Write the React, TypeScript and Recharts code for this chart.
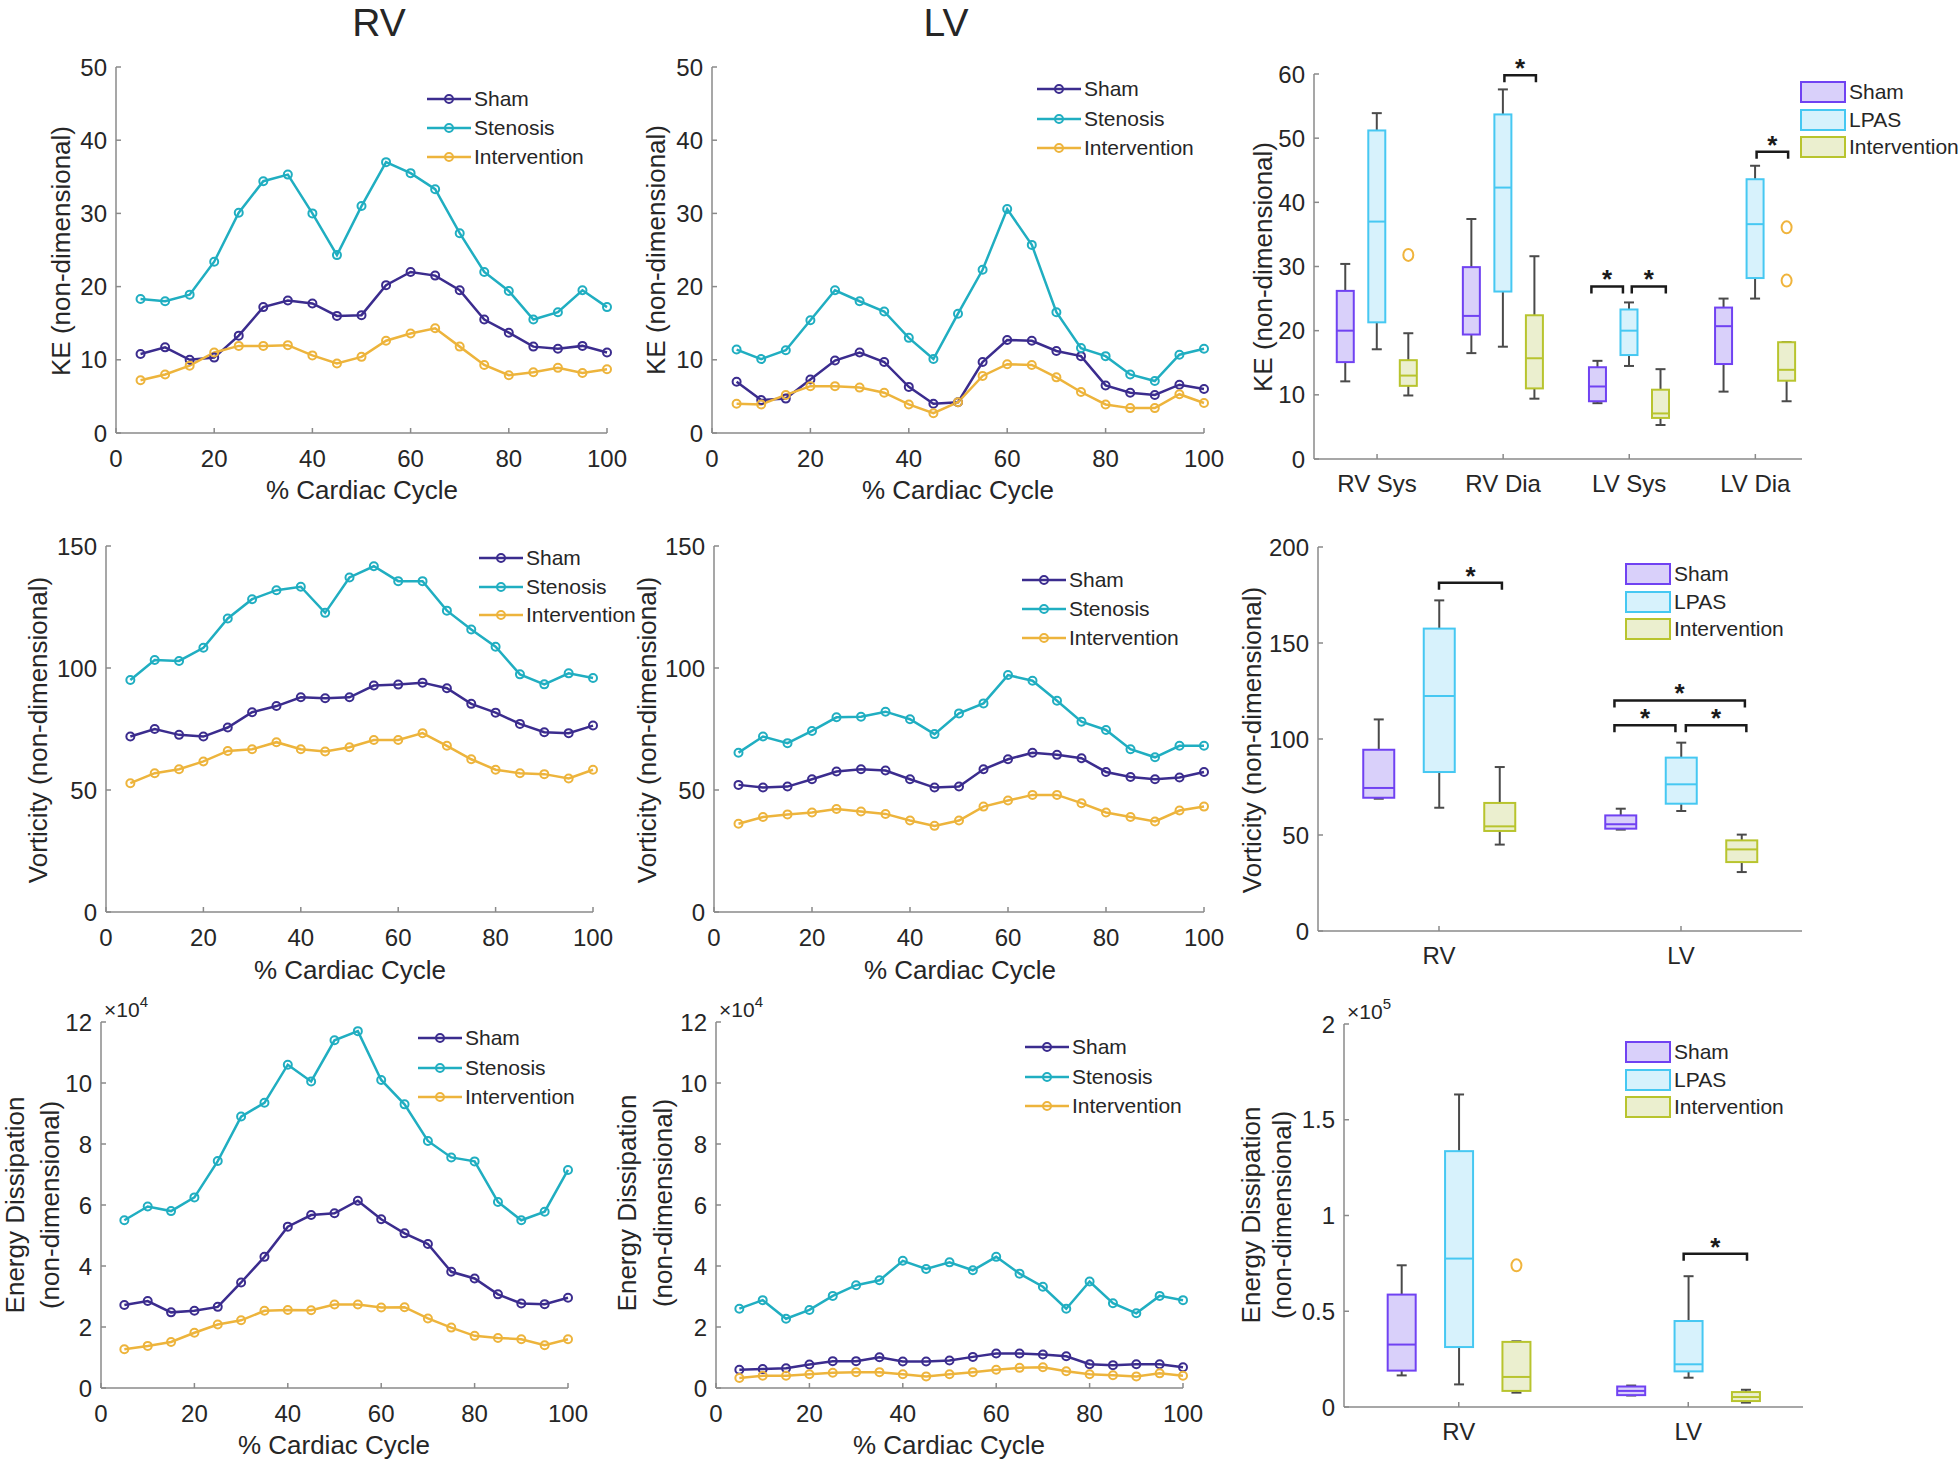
import React from 'react'
import { Bar, ComposedChart, Line, LineChart, ReferenceLine, XAxis, YAxis } from 'recharts'

// ---- line panels: % cardiac cycle ----
const cycle = [5, 10, 15, 20, 25, 30, 35, 40, 45, 50, 55, 60, 65, 70, 75, 80, 85, 90, 95, 100]

const rvKeSham = [10.8, 11.7, 10.0, 10.3, 13.3, 17.2, 18.1, 17.7, 16.0, 16.1, 20.2, 22.0, 21.5, 19.5, 15.5, 13.7, 11.8, 11.5, 11.9, 11.0]
const rvKeStenosis = [18.3, 18.0, 18.9, 23.4, 30.1, 34.4, 35.3, 30.0, 24.3, 31.0, 37.0, 35.5, 33.3, 27.3, 22.0, 19.4, 15.5, 16.5, 19.5, 17.2]
const rvKeIntervention = [7.2, 8.0, 9.2, 11.0, 11.9, 11.9, 12.0, 10.6, 9.5, 10.4, 12.6, 13.6, 14.3, 11.8, 9.3, 7.9, 8.3, 8.9, 8.2, 8.7]

const lvKeSham = [7.0, 4.5, 4.7, 7.3, 9.9, 11.0, 9.7, 6.3, 4.0, 4.2, 9.7, 12.7, 12.6, 11.2, 10.5, 6.5, 5.5, 5.2, 6.6, 6.0]
const lvKeStenosis = [11.4, 10.1, 11.3, 15.4, 19.5, 18.0, 16.6, 13.0, 10.1, 16.3, 22.3, 30.6, 25.7, 16.5, 11.6, 10.5, 8.0, 7.1, 10.7, 11.5]
const lvKeIntervention = [4.0, 3.9, 5.2, 6.4, 6.4, 6.2, 5.5, 3.9, 2.7, 4.2, 7.8, 9.4, 9.3, 7.6, 5.6, 3.9, 3.4, 3.4, 5.3, 4.1]

const rvVortSham = [71.9, 75.0, 72.6, 71.9, 75.6, 81.9, 84.4, 88.0, 87.6, 88.0, 92.8, 93.2, 94.0, 91.7, 85.3, 81.7, 77.1, 73.7, 73.3, 76.4]
const rvVortStenosis = [95.1, 103.3, 102.9, 108.3, 120.3, 128.2, 131.9, 133.3, 122.6, 137.1, 141.7, 135.6, 135.6, 123.5, 115.8, 108.7, 97.4, 93.3, 97.8, 95.9]
const rvVortIntervention = [52.8, 56.9, 58.5, 61.7, 66.0, 66.7, 69.6, 66.7, 65.8, 67.5, 70.5, 70.5, 73.3, 68.1, 62.6, 58.3, 56.9, 56.5, 54.7, 58.3]

const lvVortSham = [52.1, 51.0, 51.4, 54.4, 57.6, 58.5, 58.0, 54.4, 51.0, 51.4, 58.5, 62.6, 65.3, 64.4, 63.0, 57.4, 55.3, 54.4, 55.1, 57.4]
const lvVortStenosis = [65.3, 71.9, 69.2, 74.2, 79.8, 80.0, 82.1, 79.0, 72.9, 81.4, 85.5, 97.1, 94.8, 86.6, 78.0, 74.6, 66.7, 63.4, 68.1, 68.1]
const lvVortIntervention = [36.2, 38.9, 40.0, 40.8, 42.2, 41.2, 40.2, 37.5, 35.3, 37.5, 43.2, 45.7, 48.0, 48.0, 44.6, 40.8, 38.9, 37.1, 41.6, 43.2]

const rvEdSham = [27200, 28500, 24800, 25300, 26600, 34600, 43000, 52900, 56700, 57300, 61400, 55300, 50700, 47200, 38100, 35900, 30700, 27700, 27500, 29600]
const rvEdStenosis = [55000, 59500, 58000, 62500, 74400, 89000, 93500, 106000, 100500, 114000, 117000, 101000, 93000, 81000, 75600, 74300, 61000, 55000, 57800, 71500]
const rvEdIntervention = [12700, 13800, 15100, 18100, 20800, 22200, 25300, 25600, 25500, 27400, 27400, 26400, 26500, 22800, 19800, 17100, 16400, 16000, 14000, 16000]

const lvEdSham = [6000, 6200, 6500, 7700, 8800, 8800, 10100, 8700, 8700, 9000, 10200, 11300, 11300, 11000, 10400, 7800, 7500, 7800, 7800, 6800]
const lvEdStenosis = [26000, 28800, 22700, 25600, 30200, 33700, 35300, 41700, 39000, 41200, 38600, 43000, 37500, 33200, 26000, 34900, 27800, 24500, 30200, 28800]
const lvEdIntervention = [3300, 4000, 4000, 4500, 5000, 5200, 5200, 4500, 3800, 4500, 5200, 6000, 6600, 6800, 5500, 4500, 4200, 3800, 4800, 4000]

// ---- box panels: [lower whisker, Q1, median, Q3, upper whisker] ----
const keCats = ['RV Sys', 'RV Dia', 'LV Sys', 'LV Dia']
const keSham = [[12.1, 15.1, 20.0, 26.2, 30.4], [16.5, 19.4, 22.3, 29.9, 37.4], [8.7, 9.0, 11.3, 14.3, 15.3], [10.5, 14.8, 20.7, 23.6, 25.0]]
const keLpas = [[17.1, 21.3, 37.0, 51.2, 53.9], [17.5, 26.1, 42.3, 53.7, 57.6], [14.5, 16.2, 20.0, 23.3, 24.4], [25.0, 28.2, 36.6, 43.6, 45.7]]
const keIntervention = [[9.9, 11.4, 13.0, 15.4, 19.6], [9.4, 11.0, 15.7, 22.4, 31.6], [5.3, 6.4, 7.1, 10.8, 14.0], [9.0, 12.2, 13.9, 18.2, 18.2]]
const keOutliers = [[31.8], [], [], [36.1, 27.8]]
const keBrackets = [[2.01, 2.26, 59.8], [2.7, 2.95, 26.9], [3.02, 3.29, 26.9], [4.01, 4.26, 47.9]]

const ventCats = ['RV', 'LV']
const vortSham = [[68.9, 69.4, 74.5, 94.4, 110.2], [52.8, 53.3, 55.6, 60.2, 63.7]]
const vortLpas = [[64.2, 82.8, 122.4, 157.5, 172.2], [62.5, 66.3, 76.4, 90.3, 98.1]]
const vortIntervention = [[45.0, 52.1, 54.5, 66.7, 85.4], [30.7, 35.9, 42.5, 47.2, 50.2]]
const vortOutliers = [[], []]
const vortBrackets = [[1.0, 1.26, 181.4], [1.725, 1.977, 107.1], [2.02, 2.27, 107.1], [1.725, 2.264, 120.1]]

const edSham = [[16500, 19000, 32600, 58700, 74000], [6000, 6200, 8400, 10700, 11200]]
const edLpas = [[11800, 31300, 77500, 133600, 163200], [15300, 18600, 22300, 44900, 68300]]
const edIntervention = [[7500, 8400, 15700, 34000, 34300], [2300, 3100, 5200, 7800, 9000]]
const edOutliers = [[74000], []]
const edBrackets = [[1.98, 2.256, 80000]]

const FONT = '"Liberation Sans", Arial, Helvetica, sans-serif'
const AXIS = '#8a8a8a'
const TEXT = '#262626'
const LINES = [
  { key: 'sham', name: 'Sham', color: '#3b2c8e' },
  { key: 'sten', name: 'Stenosis', color: '#20aec1' },
  { key: 'int', name: 'Intervention', color: '#edb43c' },
]
const BOXES = [
  { name: 'Sham', stroke: '#7042f2', fill: '#d9d0fa' },
  { name: 'LPAS', stroke: '#46c8f2', fill: '#d7f2fc' },
  { name: 'Intervention', stroke: '#b8c42e', fill: '#ebefcf' },
]
const OUTLIER = '#f0b43c'
const offsets = [-0.25, 0, 0.25]

type Rect = { l: number; t: number; r: number; b: number }
const M = { top: 20, right: 20, bottom: 20, left: 20 }
const YW = 60
const XH = 40
const frame = (p: Rect) => ({
  left: p.l - M.left - YW,
  top: p.t - M.top,
  width: p.r - p.l + M.left + YW + M.right,
  height: p.b - p.t + M.top + XH + M.bottom,
})

const toRows = (a: number[], b: number[], c: number[]) =>
  cycle.map((x, i) => ({ c: x, sham: a[i], sten: b[i], int: c[i] }))

const toBoxes = (sets: number[][][], outliers: number[][]) =>
  sets.flatMap((set, g) =>
    set.map((s, i) => ({ pos: i + 1 + offsets[g], g, stats: s, range: [s[1], s[3]], out: g === 2 ? outliers[i] : [] }))
  )

const axisProps = {
  stroke: AXIS,
  tickSize: -5,
  interval: 0 as const,
  axisLine: { stroke: AXIS, strokeWidth: 1.5 },
  tickLine: { stroke: AXIS, strokeWidth: 1.5 },
  tick: { fill: TEXT, fontSize: 24, fontFamily: FONT },
}

function LinePanel({ rect, rows, yMax, yTicks, yFmt }: { rect: Rect; rows: any[]; yMax: number; yTicks: number[]; yFmt?: (v: number) => string }) {
  const f = frame(rect)
  return (
    <div style={{ position: 'absolute', left: f.left, top: f.top }}>
      <LineChart width={f.width} height={f.height} data={rows} margin={M}>
        <XAxis dataKey="c" type="number" domain={[0, 100]} ticks={[0, 20, 40, 60, 80, 100]} height={XH} tickMargin={22} {...axisProps} />
        <YAxis type="number" domain={[0, yMax]} ticks={yTicks} width={YW} tickMargin={14} tickFormatter={yFmt} {...axisProps} />
        {LINES.map((s) => (
          <Line
            key={s.key}
            dataKey={s.key}
            type="linear"
            stroke={s.color}
            strokeWidth={2.5}
            dot={{ r: 4, stroke: s.color, strokeWidth: 2, fill: 'none' }}
            activeDot={false}
            isAnimationActive={false}
          />
        ))}
      </LineChart>
    </div>
  )
}

function BoxShape(props: any) {
  const { x, y, width, height, payload } = props
  const [mn, q1, md, q3, mx] = payload.stats
  const top = Math.min(y, y + height)
  const h = Math.abs(height)
  const k = h / (q3 - q1)
  const py = (v: number) => top + (q3 - v) * k
  const cx = x + width / 2
  const st = BOXES[payload.g]
  return (
    <g>
      <line x1={cx} x2={cx} y1={py(mx)} y2={top} stroke="#4a4a4a" strokeWidth={2} />
      <line x1={cx} x2={cx} y1={top + h} y2={py(mn)} stroke="#4a4a4a" strokeWidth={2} />
      <line x1={cx - 5} x2={cx + 5} y1={py(mx)} y2={py(mx)} stroke="#4a4a4a" strokeWidth={2} />
      <line x1={cx - 5} x2={cx + 5} y1={py(mn)} y2={py(mn)} stroke="#4a4a4a" strokeWidth={2} />
      <rect x={x} y={top} width={width} height={h} fill={st.fill} stroke={st.stroke} strokeWidth={2} />
      <line x1={x} x2={x + width} y1={py(md)} y2={py(md)} stroke={st.stroke} strokeWidth={2} />
      {payload.out.map((o: number, i: number) => (
        <ellipse key={i} cx={cx} cy={py(o)} rx={5} ry={6} fill="none" stroke={OUTLIER} strokeWidth={2} />
      ))}
    </g>
  )
}

function Bracket(p: any) {
  const { x1, y1, x2 } = p
  return (
    <g>
      <path d={`M${x1},${y1 + 7}V${y1}H${x2}V${y1 + 7}`} fill="none" stroke="#1a1a1a" strokeWidth={2.5} />
      <text x={(x1 + x2) / 2} y={y1 + 2} textAnchor="middle" fontSize={26} fontWeight="bold" fontFamily={FONT} fill="#1a1a1a">
        *
      </text>
    </g>
  )
}

function BoxPanel({ rect, rows, cats, xMax, yMax, yTicks, yFmt, barSize, brackets }: {
  rect: Rect; rows: any[]; cats: string[]; xMax: number; yMax: number; yTicks: number[]; yFmt?: (v: number) => string; barSize: number; brackets: number[][]
}) {
  const f = frame(rect)
  return (
    <div style={{ position: 'absolute', left: f.left, top: f.top }}>
      <ComposedChart width={f.width} height={f.height} data={rows} margin={M}>
        <XAxis
          dataKey="pos"
          type="number"
          domain={[0.5, xMax]}
          allowDataOverflow
          ticks={cats.map((_, i) => i + 1)}
          tickFormatter={(v: number) => cats[Math.round(v) - 1]}
          height={XH}
          tickMargin={21}
          {...axisProps}
        />
        <YAxis type="number" domain={[0, yMax]} allowDataOverflow ticks={yTicks} width={YW} tickMargin={14} tickFormatter={yFmt} {...axisProps} />
        <Bar dataKey="range" barSize={barSize} shape={BoxShape} isAnimationActive={false} />
        {brackets.map(([a, b, yv], i) => (
          <ReferenceLine key={i} segment={[{ x: a, y: yv }, { x: b, y: yv }]} shape={Bracket} ifOverflow="visible" />
        ))}
      </ComposedChart>
    </div>
  )
}

function LineKey({ x, y, gap }: { x: number; y: number; gap: number }) {
  return (
    <>
      {LINES.map((s, i) => (
        <div key={s.key} style={{ position: 'absolute', left: x, top: y + i * gap - 14, height: 28, display: 'flex', alignItems: 'center' }}>
          <svg width={44} height={28}>
            <line x1={0} x2={44} y1={14} y2={14} stroke={s.color} strokeWidth={2.5} />
            <circle cx={22} cy={14} r={4} fill="none" stroke={s.color} strokeWidth={2} />
          </svg>
          <span style={{ marginLeft: 3, fontSize: 21, color: TEXT }}>{s.name}</span>
        </div>
      ))}
    </>
  )
}

function BoxKey({ x, y }: { x: number; y: number }) {
  return (
    <>
      {BOXES.map((s, i) => (
        <div key={s.name} style={{ position: 'absolute', left: x, top: y + i * 27.5 - 13, height: 26, display: 'flex', alignItems: 'center' }}>
          <svg width={46} height={24}>
            <rect x={1} y={2} width={44} height={20} fill={s.fill} stroke={s.stroke} strokeWidth={2} />
          </svg>
          <span style={{ marginLeft: 3, fontSize: 21, color: TEXT }}>{s.name}</span>
        </div>
      ))}
    </>
  )
}

function YTitle({ x, y, text }: { x: number; y: number; text: string }) {
  return (
    <div style={{ position: 'absolute', left: x, top: y, transform: 'translate(-50%, -50%) rotate(-90deg)', whiteSpace: 'nowrap', fontSize: 26, lineHeight: 1, color: TEXT }}>
      {text}
    </div>
  )
}

function XTitle({ x, y, text }: { x: number; y: number; text: string }) {
  return (
    <div style={{ position: 'absolute', left: x, top: y, transform: 'translate(-50%, -50%)', whiteSpace: 'nowrap', fontSize: 26, lineHeight: 1, color: TEXT }}>
      {text}
    </div>
  )
}

function Exponent({ x, y, p }: { x: number; y: number; p: number }) {
  return (
    <div style={{ position: 'absolute', left: x, top: y - 13, fontSize: 21, lineHeight: '26px', color: TEXT, whiteSpace: 'nowrap' }}>
      ×10<span style={{ fontSize: 15, position: 'relative', top: -10 }}>{p}</span>
    </div>
  )
}

const e4 = (v: number) => String(v / 10000)
const e5 = (v: number) => String(v / 100000)

export default function App() {
  return (
    <div style={{ position: 'absolute', left: 0, top: 0, width: 1960, height: 1461, background: '#fff', fontFamily: FONT, color: TEXT, overflow: 'hidden' }}>
      <div style={{ position: 'absolute', left: 379, top: 3, transform: 'translateX(-50%)', fontSize: 39, lineHeight: 1 }}>RV</div>
      <div style={{ position: 'absolute', left: 946, top: 3, transform: 'translateX(-50%)', fontSize: 39, lineHeight: 1 }}>LV</div>

      {/* row 1: kinetic energy */}
      <LinePanel rect={{ l: 116, t: 67, r: 607, b: 433 }} rows={toRows(rvKeSham, rvKeStenosis, rvKeIntervention)} yMax={50} yTicks={[0, 10, 20, 30, 40, 50]} />
      <YTitle x={61} y={251} text="KE (non-dimensional)" />
      <XTitle x={362} y={490} text="% Cardiac Cycle" />
      <LineKey x={427} y={99} gap={29} />

      <LinePanel rect={{ l: 712, t: 67, r: 1204, b: 433 }} rows={toRows(lvKeSham, lvKeStenosis, lvKeIntervention)} yMax={50} yTicks={[0, 10, 20, 30, 40, 50]} />
      <YTitle x={656} y={250} text="KE (non-dimensional)" />
      <XTitle x={958} y={490} text="% Cardiac Cycle" />
      <LineKey x={1037} y={89} gap={29.5} />

      <BoxPanel rect={{ l: 1314, t: 74, r: 1802, b: 459 }} rows={toBoxes([keSham, keLpas, keIntervention], keOutliers)} cats={keCats} xMax={4.37} yMax={60} yTicks={[0, 10, 20, 30, 40, 50, 60]} barSize={17} brackets={keBrackets} />
      <YTitle x={1263} y={267} text="KE (non-dimensional)" />
      <BoxKey x={1800} y={92} />

      {/* row 2: vorticity */}
      <LinePanel rect={{ l: 106, t: 546, r: 593, b: 912 }} rows={toRows(rvVortSham, rvVortStenosis, rvVortIntervention)} yMax={150} yTicks={[0, 50, 100, 150]} />
      <YTitle x={38} y={730} text="Vorticity (non-dimensional)" />
      <XTitle x={350} y={970} text="% Cardiac Cycle" />
      <LineKey x={479} y={558} gap={28.5} />

      <LinePanel rect={{ l: 714, t: 546, r: 1204, b: 912 }} rows={toRows(lvVortSham, lvVortStenosis, lvVortIntervention)} yMax={150} yTicks={[0, 50, 100, 150]} />
      <YTitle x={647} y={730} text="Vorticity (non-dimensional)" />
      <XTitle x={960} y={970} text="% Cardiac Cycle" />
      <LineKey x={1022} y={580} gap={29} />

      <BoxPanel rect={{ l: 1318, t: 547, r: 1802, b: 931 }} rows={toBoxes([vortSham, vortLpas, vortIntervention], vortOutliers)} cats={ventCats} xMax={2.5} yMax={200} yTicks={[0, 50, 100, 150, 200]} barSize={31} brackets={vortBrackets} />
      <YTitle x={1252} y={740} text="Vorticity (non-dimensional)" />
      <BoxKey x={1625} y={574} />

      {/* row 3: energy dissipation */}
      <LinePanel rect={{ l: 101, t: 1022, r: 568, b: 1388 }} rows={toRows(rvEdSham, rvEdStenosis, rvEdIntervention)} yMax={120000} yTicks={[0, 20000, 40000, 60000, 80000, 100000, 120000]} yFmt={e4} />
      <YTitle x={15} y={1205} text="Energy Dissipation" />
      <YTitle x={50} y={1205} text="(non-dimensional)" />
      <XTitle x={334} y={1445} text="% Cardiac Cycle" />
      <Exponent x={104} y={1010} p={4} />
      <LineKey x={418} y={1038} gap={29.5} />

      <LinePanel rect={{ l: 716, t: 1022, r: 1183, b: 1388 }} rows={toRows(lvEdSham, lvEdStenosis, lvEdIntervention)} yMax={120000} yTicks={[0, 20000, 40000, 60000, 80000, 100000, 120000]} yFmt={e4} />
      <YTitle x={627} y={1203} text="Energy Dissipation" />
      <YTitle x={663} y={1203} text="(non-dimensional)" />
      <XTitle x={949} y={1445} text="% Cardiac Cycle" />
      <Exponent x={719} y={1010} p={4} />
      <LineKey x={1025} y={1047} gap={29.5} />

      <BoxPanel rect={{ l: 1344, t: 1024, r: 1803, b: 1407 }} rows={toBoxes([edSham, edLpas, edIntervention], edOutliers)} cats={ventCats} xMax={2.5} yMax={200000} yTicks={[0, 50000, 100000, 150000, 200000]} yFmt={e5} barSize={28} brackets={edBrackets} />
      <YTitle x={1251} y={1215} text="Energy Dissipation" />
      <YTitle x={1282} y={1215} text="(non-dimensional)" />
      <Exponent x={1347} y={1012} p={5} />
      <BoxKey x={1625} y={1052} />
    </div>
  )
}
